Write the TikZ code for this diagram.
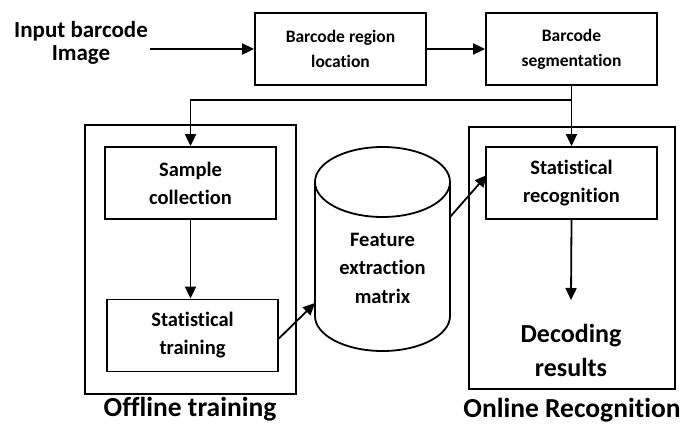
\documentclass[tikz,border=0pt]{standalone}
\usepackage{fontspec}
\setmainfont{Carlito}[Ligatures=NoCommon]
\usetikzlibrary{arrows.meta}
\tikzset{
  flow/.style={line width=1.8pt},
  arr/.style={flow, -{Triangle[length=12pt,width=11pt]}},
  stage/.style={draw, line width=1.8pt, minimum width=171pt, minimum height=72pt,
    align=center, inner sep=0pt},
  small/.style={font=\bfseries\fontsize{17.5}{25}\selectfont},
  mid/.style={font=\bfseries\fontsize{20.5}{28}\selectfont},
  big/.style={font=\bfseries\fontsize{26}{34}\selectfont, align=center},
  caption/.style={font=\bfseries\fontsize{27.5}{30}\selectfont, anchor=base},
}
\begin{document}
\begin{tikzpicture}[x=1pt, y=-1pt]
\useasboundingbox (0,0) rectangle (688,423);

% input label
\node[font=\bfseries\fontsize{23}{23}\selectfont, align=center, inner sep=2pt]
  (input) at (81,43) {Input barcode\\Image};

% preprocessing stages
\node[stage, small] (locate) at (340.5,49) {Barcode region\\location};
\node[stage, small] (segment) at (571.5,49) {Barcode\\segmentation};

% offline and online groups
\draw[flow] (85,125) rectangle (296,394);
\draw[flow] (469,127) rectangle (675,389);
\node[caption] (offcap) at (190,416.5) {Offline training};
\node[caption] (oncap) at (572,417) {Online Recognition};

\node[stage, mid] (sample) at (190.5,183) {Sample\\collection};
\node[stage, mid] (train) at (192.5,335.5) {Statistical\\training};
\node[stage, mid] (recog) at (571.5,183) {Statistical\\recognition};
\node[big] (decode) at (571,350) {Decoding\\results};
\coordinate (decodetop) at (571,300);

% feature database drawn as a cylinder
\draw[flow] (315,182) -- (315,316) arc[start angle=180, end angle=360, x radius=67.5, y radius=-35]
  -- (450,182);
\draw[flow] (382.5,182) ellipse[x radius=67.5, y radius=35];
\node[mid, align=center, font=\bfseries\fontsize{20.5}{28.5}\selectfont] (feature) at (382.5,268) {Feature\\extraction\\matrix};
\coordinate (cylin) at (315,303);
\coordinate (cylout) at (450,217);
\coordinate (recogin) at (487,175);
\coordinate (split) at (571.5,100);

% connectors
\draw[arr] (input.east |- locate.west) -- (locate.west);
\draw[arr] (locate.east) -- (segment.west);
\draw[arr] (segment.south) -- (recog.north);
\draw[arr] (split) -| (sample.north);
\draw[arr] (sample.south) -- (sample.south |- train.north);
\draw[arr] ([yshift=-3pt]train.east) -- (cylin);
\draw[arr] (cylout) -- (recogin);
\draw[arr] (recog.south) -- (decodetop);
\end{tikzpicture}
\end{document}
